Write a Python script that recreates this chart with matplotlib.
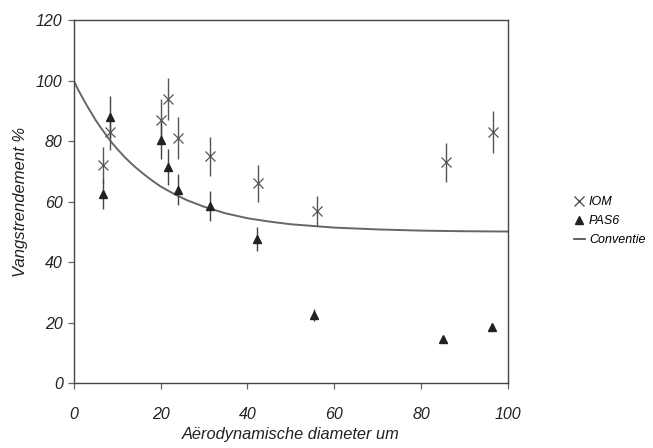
import matplotlib
matplotlib.use("Agg")
import matplotlib.pyplot as plt
from matplotlib.lines import Line2D

plt.rcParams['font.family'] = ['Liberation Sans', 'DejaVu Sans']
plt.rcParams['font.style'] = 'italic'

# IOM sampler (x markers)
iom_d = [6.7, 8.3, 20.0, 21.8, 23.9, 31.3, 42.5, 55.9, 85.8, 96.6]
iom_eff = [72, 83, 87, 94, 81, 75, 66, 57, 73, 83]
iom_err = [6, 6, 7, 7, 7, 6.5, 6, 5, 6.5, 7]

# PAS6 sampler (triangles)
pas_d = [6.7, 8.3, 20.0, 21.8, 23.9, 31.3, 42.3, 55.4, 85.0, 96.3]
pas_eff = [62.5, 88, 80.5, 71.5, 64, 58.5, 47.5, 22.5, 14.5, 18.5]
pas_err = [5, 7, 6.5, 6, 5, 5, 4, 2, 0, 0]

# convention curve
conv_d = [0, 1, 2, 3, 4, 5, 6, 7, 8, 9, 10, 12, 14, 16, 18, 20, 23, 26, 30,
          35, 40, 45, 50, 60, 70, 80, 90, 100]
conv_eff = [100, 97, 94.4, 91.8, 89.4, 87, 84.9, 82.9, 80.9, 79.1, 77.4, 74.3,
            71.6, 69.2, 67, 65, 62.6, 60.5, 58.3, 56.1, 54.5, 53.4, 52.5,
            51.4, 50.8, 50.4, 50.2, 50.1]

fig = plt.figure(figsize=(6.53, 4.48), dpi=100)
ax = fig.add_axes([0.113, 0.145, 0.665, 0.81])

ax.plot(conv_d, conv_eff, color="#666666", lw=1.4, zorder=2)
ax.errorbar(iom_d, iom_eff, yerr=iom_err, fmt="x", color="#555555", ms=7, mew=0.9,
            elinewidth=1.0, capsize=0, zorder=3)
ax.errorbar(pas_d, pas_eff, yerr=pas_err, fmt="^", color="#222222", ms=5.5,
            elinewidth=1.0, ecolor="#444444", capsize=0, zorder=3)

ax.set_xlim(0, 100)
ax.set_ylim(0, 120)
ax.set_xticks([0, 20, 40, 60, 80, 100])
ax.set_yticks([0, 20, 40, 60, 80, 100, 120])
for s in ax.spines.values():
    s.set_color("#444444")
    s.set_linewidth(1.0)
ax.tick_params(direction="out", length=4, width=0.9, color="#666666",
               labelsize=11.5)
ax.tick_params(axis="x", pad=13)
ax.tick_params(axis="y", pad=4)
for t in ax.get_xticklabels() + ax.get_yticklabels():
    t.set_style("italic")
    t.set_color("#222222")

ax.set_xlabel("Aërodynamische diameter um", fontsize=11.8, style="italic",
              color="#222222", labelpad=4)
ax.set_ylabel("Vangstrendement %", fontsize=12, style="italic",
              color="#222222", labelpad=6)

handles = [
    Line2D([], [], ls="none", marker="x", color="#444444", ms=7, mew=0.9),
    Line2D([], [], ls="none", marker="^", color="#222222", ms=6),
    Line2D([], [], color="#444444", lw=1.2),
]
leg = ax.legend(handles, ["IOM", "PAS6", "Conventie"],
                loc="center left", bbox_to_anchor=(1.14, 0.446), frameon=False,
                fontsize=9, handlelength=0.9, handletextpad=0.3,
                labelspacing=0.55, borderaxespad=0)
for t in leg.get_texts():
    t.set_style("italic")

fig.savefig("out.png", dpi=100)
